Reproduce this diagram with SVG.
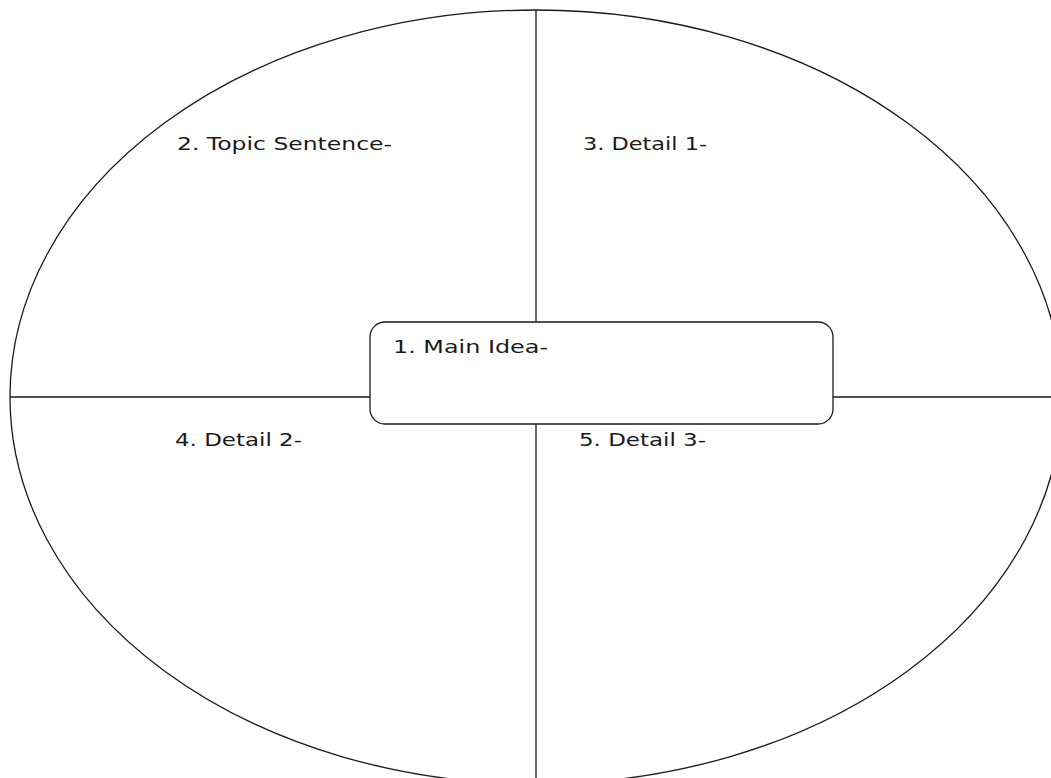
<svg xmlns="http://www.w3.org/2000/svg" width="1051" height="778" viewBox="0 0 1051 778">
<style>
.ln{stroke:#1a1a1a;stroke-width:1.3;fill:none}
.t{font-family:"DejaVu Sans",Verdana,sans-serif;font-size:18px;fill:#1a1a1a}
</style>
<rect width="1051" height="778" fill="#fff"/>
<g id="connectors">
<ellipse class="ln" cx="536" cy="397" rx="526" ry="387"/>
<line class="ln" x1="536" y1="10" x2="536" y2="322"/>
<line class="ln" x1="536" y1="424" x2="536" y2="778"/>
<line class="ln" x1="10" y1="397" x2="370" y2="397"/>
<line class="ln" x1="833" y1="397" x2="1051" y2="397"/>
</g>
<g id="main">
<rect x="370" y="322" width="463" height="102" rx="15" ry="15" fill="#fff" stroke="#1a1a1a" stroke-width="1.3"/>
<text class="t" x="393" y="353" textLength="155" lengthAdjust="spacingAndGlyphs">1. Main Idea-</text>
</g>
<g id="topic"><text class="t" x="177" y="150" textLength="215" lengthAdjust="spacingAndGlyphs">2. Topic Sentence-</text></g>
<g id="detail1"><text class="t" x="583" y="150" textLength="124" lengthAdjust="spacingAndGlyphs">3. Detail 1-</text></g>
<g id="detail2"><text class="t" x="175" y="446" textLength="127" lengthAdjust="spacingAndGlyphs">4. Detail 2-</text></g>
<g id="detail3"><text class="t" x="579" y="446" textLength="127" lengthAdjust="spacingAndGlyphs">5. Detail 3-</text></g>
</svg>
